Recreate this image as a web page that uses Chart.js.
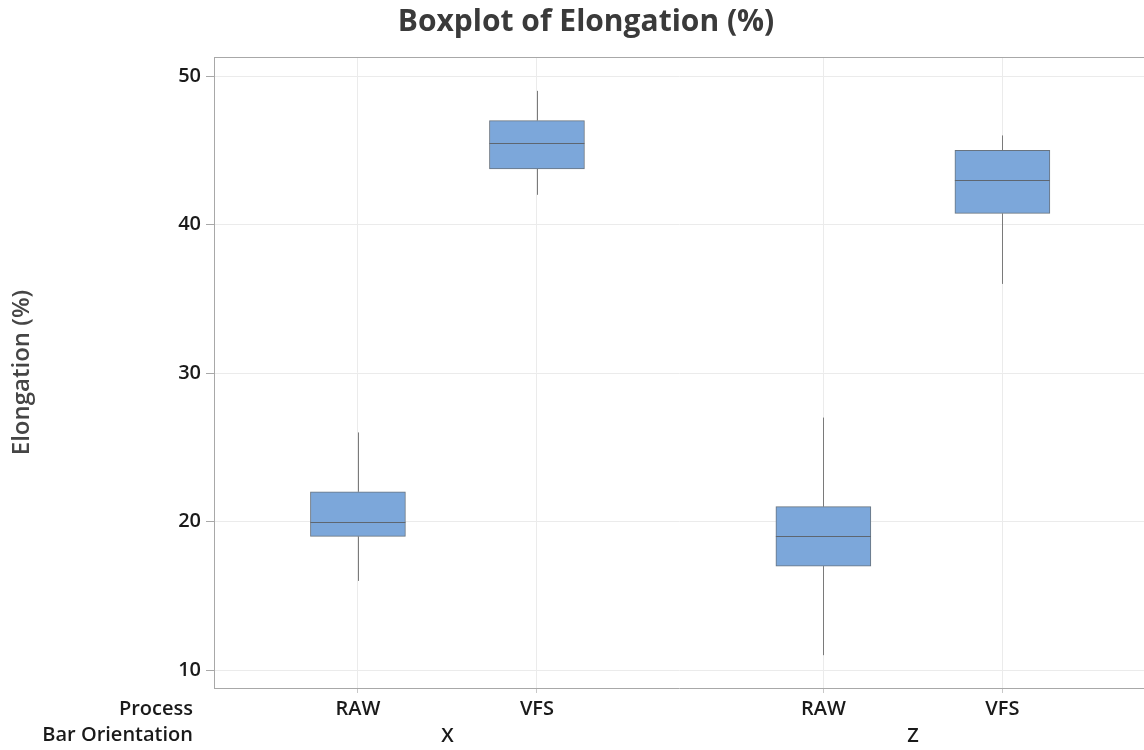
<!DOCTYPE html>
<html>
<head>
<meta charset="utf-8">
<script src="https://cdn.jsdelivr.net/npm/chart.js@4.4.1/dist/chart.umd.min.js"></script>
<style>
  html, body { margin: 0; padding: 0; background: #fff; }
  #wrap { width: 1144px; height: 750px; }
</style>
</head>
<body>
<div id="wrap"><canvas id="box-chart"></canvas></div>
<script>
// 数据
const processLabels = ['RAW', 'VFS', 'RAW', 'VFS'];
const orientationLabels = ['X', 'Z'];
const whiskerLow = [16, 42, 11, 36];
const q1 = [19, 43.75, 17, 40.75];
const median = [20, 45.5, 19, 43];
const q3 = [22, 47, 21, 45];
const whiskerHigh = [26, 49, 27, 46];
const yTicks = [10, 20, 30, 40, 50];

// 布局位置 (x 轴)
const xPos = [0, 1, 2.6, 3.6];
const groupPos = [0.5, 3.1];

const FONT = '"Open Sans", "Noto Sans", sans-serif';

// 须线、中位线、标题
const boxPlugin = {
    id: 'boxExtras',
    beforeDatasetsDraw(chart) {
        const ctx = chart.ctx;
        const x = chart.scales.x, y = chart.scales.y;
        ctx.save();
        ctx.strokeStyle = '#7a7a7a';
        ctx.lineWidth = 1;
        xPos.forEach((p, i) => {
            const px = Math.round(x.getPixelForValue(p)) + 0.5;
            ctx.beginPath();
            ctx.moveTo(px, y.getPixelForValue(whiskerHigh[i]));
            ctx.lineTo(px, y.getPixelForValue(q3[i]));
            ctx.moveTo(px, y.getPixelForValue(q1[i]));
            ctx.lineTo(px, y.getPixelForValue(whiskerLow[i]));
            ctx.stroke();
        });
        ctx.restore();
    },
    afterDatasetsDraw(chart) {
        const ctx = chart.ctx;
        const y = chart.scales.y;
        const meta = chart.getDatasetMeta(0);
        ctx.save();
        ctx.strokeStyle = '#5e6670';
        ctx.lineWidth = 1;
        meta.data.forEach((bar, i) => {
            const py = Math.round(y.getPixelForValue(median[i])) + 0.5;
            ctx.beginPath();
            ctx.moveTo(bar.x - bar.width / 2, py);
            ctx.lineTo(bar.x + bar.width / 2, py);
            ctx.stroke();
        });
        ctx.restore();
    },
    afterDraw(chart) {
        const ctx = chart.ctx;
        const area = chart.chartArea;
        ctx.save();
        // 顶部边框
        ctx.strokeStyle = '#a8a8a8';
        ctx.lineWidth = 1;
        ctx.beginPath();
        ctx.moveTo(area.left, area.top + 0.5);
        ctx.lineTo(area.right, area.top + 0.5);
        ctx.stroke();
        // 标题
        ctx.fillStyle = '#3a3a3a';
        ctx.font = 'bold 30px ' + FONT;
        ctx.textAlign = 'center';
        ctx.textBaseline = 'middle';
        ctx.fillText('Boxplot of Elongation (%)', 586, 22);
        // 左侧分组名称
        ctx.fillStyle = '#1a1a1a';
        ctx.font = '600 20px ' + FONT;
        ctx.textAlign = 'right';
        ctx.fillText('Process', 193, 709);
        ctx.fillText('Bar Orientation', 193, 735);
        ctx.restore();
    }
};

const ctx = document.getElementById('box-chart').getContext('2d');

new Chart(ctx, {
    type: 'bar',
    data: {
        datasets: [{
            label: 'Elongation (%)',
            data: xPos.map((p, i) => ({ x: p, y: [q1[i], q3[i]] })),
            backgroundColor: '#7ca7da',
            borderColor: '#68737f',
            borderWidth: 1,
            borderSkipped: false,
            barThickness: 95,
            xAxisID: 'x'
        }]
    },
    plugins: [boxPlugin],
    options: {
        responsive: true,
        maintainAspectRatio: false,
        animation: false,
        layout: { padding: { left: 0, right: 0, top: 57, bottom: 0 } },
        scales: {
            x: {
                type: 'linear',
                position: 'bottom',
                offset: false,
                min: -0.804,
                max: 4.391,
                afterBuildTicks(scale) {
                    scale.ticks = xPos.map(v => ({ value: v }));
                },
                afterFit(scale) { scale.height = 36; },
                ticks: {
                    callback: (v, i) => processLabels[i],
                    autoSkip: false,
                    maxRotation: 0,
                    padding: 4,
                    color: '#1a1a1a',
                    font: { family: FONT, size: 20, weight: '600' }
                },
                grid: { offset: false, color: '#ebebeb', tickColor: '#c8c8c8', tickLength: 5 },
                border: { color: '#a8a8a8' }
            },
            x2: {
                type: 'linear',
                position: 'bottom',
                offset: false,
                min: -0.804,
                max: 4.391,
                afterBuildTicks(scale) {
                    scale.ticks = groupPos.map(v => ({ value: v }));
                },
                afterFit(scale) { scale.height = 26; },
                ticks: {
                    callback: (v, i) => orientationLabels[i],
                    autoSkip: false,
                    maxRotation: 0,
                    padding: 0,
                    color: '#1a1a1a',
                    font: { family: FONT, size: 20, weight: '600' }
                },
                grid: { display: false, drawTicks: false, offset: false },
                border: { display: false }
            },
            y: {
                min: 8.79,
                max: 51.28,
                afterBuildTicks(scale) {
                    scale.ticks = yTicks.map(v => ({ value: v }));
                },
                afterFit(scale) { scale.width = 214; },
                ticks: {
                    padding: 5,
                    color: '#1a1a1a',
                    font: { family: FONT, size: 20, weight: '600' }
                },
                grid: { color: '#ebebeb', tickColor: '#a8a8a8', tickLength: 8 },
                border: { color: '#a8a8a8' },
                title: {
                    display: true,
                    text: 'Elongation (%)',
                    color: '#454545',
                    padding: { top: 8, bottom: 0 },
                    font: { family: FONT, size: 24, weight: '600' }
                }
            }
        },
        plugins: {
            legend: { display: false },
            tooltip: { enabled: false },
            title: { display: false }
        }
    }
});
</script>
</body>
</html>
